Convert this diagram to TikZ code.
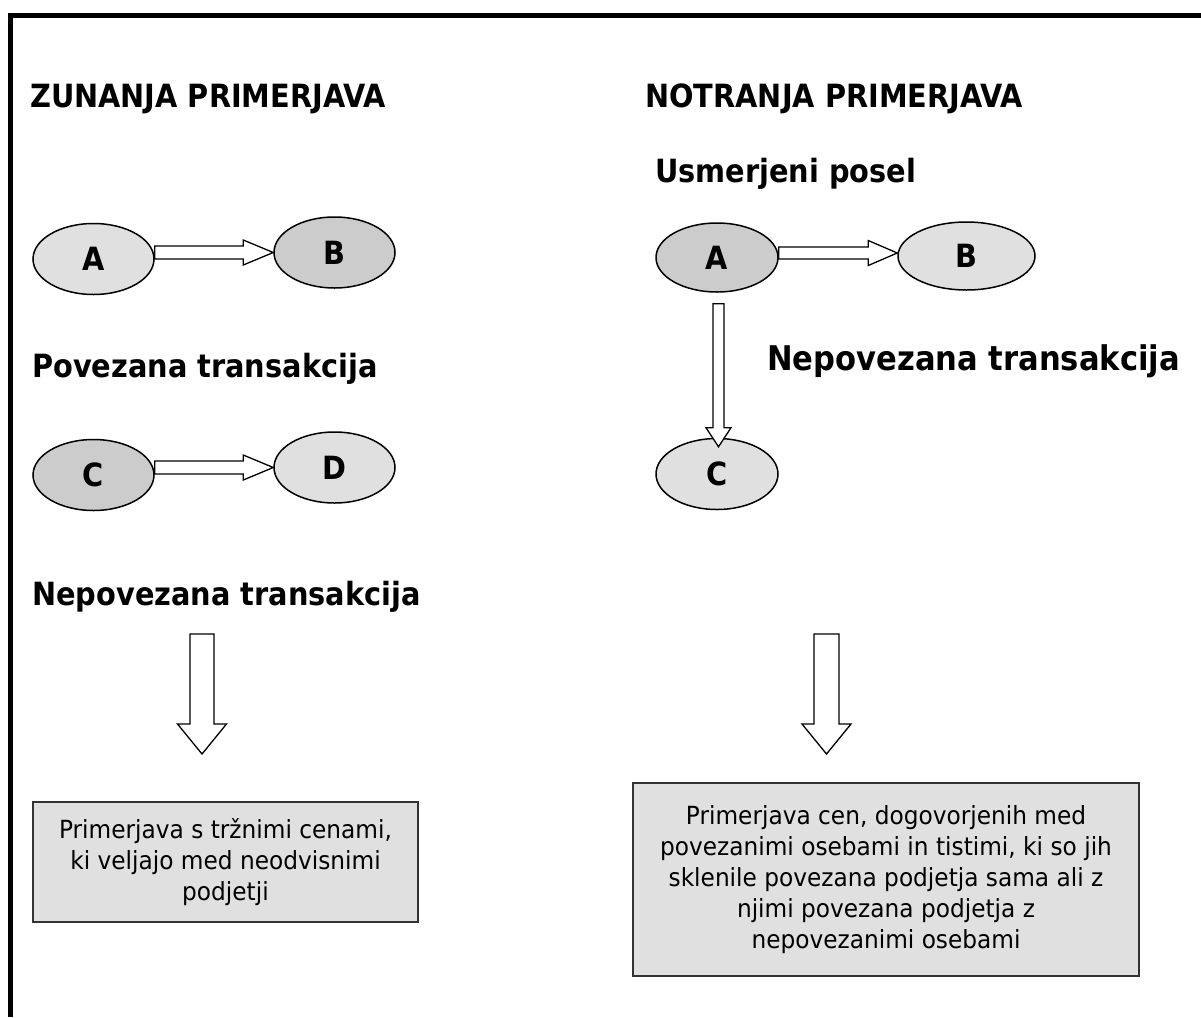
\documentclass[tikz,border=0pt]{standalone}
\usepackage{fontspec}
\setmainfont{DejaVu Sans}[FakeStretch=0.93]
\newfontfamily\headfont{DejaVu Sans}[FakeStretch=0.9]
\usetikzlibrary{shapes.geometric,calc}

\definecolor{lightfill}{HTML}{E0E0E0}
\definecolor{darkfill}{HTML}{CCCCCC}
\definecolor{boxline}{HTML}{333333}

% block arrow pointing right: start, tip, shaft half-width, head half-width, head length
\newcommand\hblock[5]{%
  \draw[barrow] ($(#1)+(0,-#3)$) -- ($(#2)+(-#5,-#3)$) -- ($(#2)+(-#5,-#4)$) -- (#2)
    -- ($(#2)+(-#5,#4)$) -- ($(#2)+(-#5,#3)$) -- ($(#1)+(0,#3)$) -- cycle;}
% block arrow pointing down: start, tip, shaft half-width, head half-width, head length
\newcommand\vblock[5]{%
  \draw[barrow] ($(#1)+(-#3,0)$) -- ($(#2)+(-#3,-#5)$) -- ($(#2)+(-#4,-#5)$) -- (#2)
    -- ($(#2)+(#4,-#5)$) -- ($(#2)+(#3,-#5)$) -- ($(#1)+(#3,0)$) -- cycle;}

\tikzset{
  party/.style={ellipse, draw=black, line width=1.5pt, inner sep=0pt,
    minimum width=121pt, minimum height=71pt,
    font=\headfont\bfseries\fontsize{32}{32}\selectfont},
  light/.style={fill=lightfill},
  dark/.style={fill=darkfill},
  heading/.style={anchor=base west, inner sep=0pt,
    font=\headfont\bfseries\fontsize{32}{32}\selectfont},
  notebox/.style={draw=boxline, line width=1.5pt, fill=lightfill, align=center,
    inner sep=0pt, font=\fontsize{25}{31}\selectfont},
  barrow/.style={draw=black, line width=1.3pt, fill=white, line join=miter},
  frame/.style={line width=5pt, draw=black, line join=miter}
}

\begin{document}
\begin{tikzpicture}[x=1pt,y=-1pt]
\useasboundingbox (0,0) rectangle (1201,1017);

% outer frame (top and left sides)
\draw[frame] (10.5,1017) -- (10.5,15) -- (1201,15);

% headings
\node[heading] (extTitle) at (30,107)  {ZUNANJA PRIMERJAVA};
\node[heading] (intTitle) at (645,107) {NOTRANJA PRIMERJAVA};
\node[heading] (directed) at (655,182) {Usmerjeni posel};
\node[heading] (relTx)    at (32,377)  {Povezana transakcija};
\node[heading] (unrelL)   at (32,605)  {Nepovezana transakcija};
\node[heading, font=\headfont\bfseries\fontsize{34}{34}\selectfont] (unrelR) at (767,370) {Nepovezana transakcija};

% external comparison: parties
\node[party,light] (eA) at (93.5,259)   {A};
\node[party,dark]  (eB) at (334.5,252.5) {B};
\node[party,dark]  (eC) at (93.5,475) {C};
\node[party,light] (eD) at (334.5,467.5) {D};

% internal comparison: parties
\node[party,dark,minimum width=122pt,minimum height=69pt]  (iA) at (717,257.5) {A};
\node[party,light,minimum width=137pt,minimum height=68pt] (iB) at (966.5,256) {B};
\node[party,light,minimum width=122pt] (iC) at (717,474) {C};

% transaction arrows
\coordinate (abStart) at (eA.east |- eB.west);
\hblock{abStart}{eB.west}{6.5}{12.5}{30}
\coordinate (cdStart) at (eC.east |- eD.west);
\hblock{cdStart}{eD.west}{6.5}{12.5}{30}
\coordinate (ibTip) at ($(iB.west)+(0,-3)$);
\coordinate (iaStart) at (iA.east |- ibTip);
\hblock{iaStart}{ibTip}{6}{12.5}{29}
\coordinate (acStart) at ($(iA.south)+(1.5,11)$);
\coordinate (acTip) at ($(iC.north)+(1.5,9)$);
\vblock{acStart}{acTip}{5.5}{12.5}{19}

% result boxes
\node[notebox, minimum width=385pt, minimum height=120pt] (boxExt) at (225.5,862)
  {Primerjava s tržnimi cenami,\\ki veljajo med neodvisnimi\\podjetji};
\node[notebox, minimum width=506pt, minimum height=193pt] (boxInt) at (886,879.5)
  {Primerjava cen, dogovorjenih med\\povezanimi osebami in tistimi, ki so jih\\sklenile povezana podjetja sama ali z\\njimi povezana podjetja z\\nepovezanimi osebami};

% arrows leading to the result boxes
\coordinate (dExtTop) at (202,634);
\coordinate (dExtTip) at (202,754);
\vblock{dExtTop}{dExtTip}{12}{24.5}{30}
\coordinate (dIntTop) at (826.5,634);
\coordinate (dIntTip) at (826.5,754);
\vblock{dIntTop}{dIntTip}{12.5}{24.5}{30}
\end{tikzpicture}
\end{document}
